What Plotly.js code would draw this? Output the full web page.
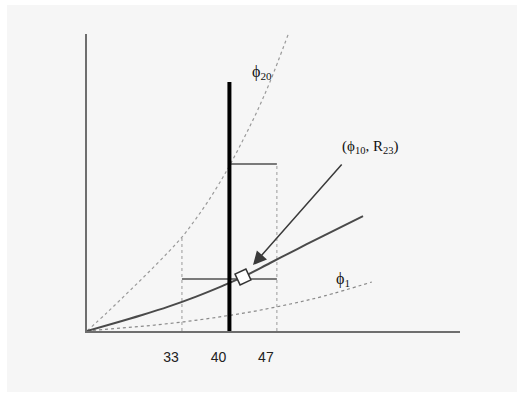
<!DOCTYPE html>
<html>
<head>
<meta charset="utf-8">
<script src="https://cdn.plot.ly/plotly-3.0.1.min.js"></script>
<style>html,body{margin:0;padding:0;background:#fff;}#chart{width:522px;height:394px;}</style>
</head>
<body>
<div id="chart"></div>
<script>
// R axis ticks
const tickValues = [33, 40, 47];
const tickLabels = ["33", "40", "47"];

// phi20 curve (dotted, steep)
const phi20R = [19, 22, 25, 28, 31, 33, 35, 37, 39, 40, 42, 44, 46, 48.64];
const phi20H = [0, 6.3, 12.9, 19.6, 26.6, 31.6, 37.6, 44.2, 51.6, 55.6, 64.3, 73.6, 84.0, 99.7];

// phi10 curve (solid, middle)
const phi10R = [19, 23, 27, 31, 35, 39, 42, 46, 50, 54, 59.7];
const phi10H = [0, 2.6, 5.3, 8.2, 11.5, 15.2, 18.2, 22.9, 27.6, 32.2, 38.7];

// phi1 curve (dotted, shallow)
const phi1R = [19, 24, 29, 34, 39, 44, 49, 54, 61];
const phi1H = [0, 1.0, 2.0, 3.3, 4.9, 6.8, 9.1, 11.8, 16.5];

// marked point (phi10, R23)
const pointR = [42.0];
const pointH = [18.2];

// thick vertical at R=40
const thickR = [40, 40];
const thickH = [0, 83.8];

// upper bracket (phi20 at R=40, out to 47)
const upperR = [40, 47];
const upperH = [56.2, 56.2];
// lower bracket (33 to 47)
const lowerR = [33, 47];
const lowerH = [17.5, 17.5];
// dotted verticals
const dot33R = [33, 33];
const dot33H = [0, 31.6];
const dot47R = [47, 47];
const dot47H = [0, 56.2];

// arrow from label to point
const arrowTail = [56.75, 56.6];
const arrowHead = [43.48, 22.2];

const serif = "Liberation Serif, Times New Roman, serif";

const traces = [
  {x: phi20R, y: phi20H, mode: "lines", line: {color: "#9a9a9a", width: 1.2, dash: "dot", shape: "spline"}, cliponaxis: false},
  {x: phi1R, y: phi1H, mode: "lines", line: {color: "#8a8a8a", width: 1.2, dash: "dot", shape: "spline"}, cliponaxis: false},
  {x: dot33R, y: dot33H, mode: "lines", line: {color: "#9a9a9a", width: 1, dash: "dot"}},
  {x: dot47R, y: dot47H, mode: "lines", line: {color: "#9a9a9a", width: 1, dash: "dot"}},
  {x: upperR, y: upperH, mode: "lines", line: {color: "#7a7a7a", width: 2}},
  {x: lowerR, y: lowerH, mode: "lines", line: {color: "#7a7a7a", width: 2}},
  {x: phi10R, y: phi10H, mode: "lines", line: {color: "#4a4a4a", width: 2, shape: "spline"}},
  {x: thickR, y: thickH, mode: "lines", line: {color: "#000000", width: 4}},
  {x: pointR, y: pointH, mode: "markers", marker: {symbol: "square", size: 12, angle: -25, color: "#ffffff", line: {color: "#333333", width: 1.5}}}
];

const layout = {
  width: 522, height: 394,
  margin: {l: 87, r: 62, t: 34, b: 63},
  paper_bgcolor: "#ffffff",
  plot_bgcolor: "rgba(0,0,0,0)",
  showlegend: false,
  xaxis: {
    range: [19, 74], showgrid: false, zeroline: false,
    showline: true, linecolor: "#6e6e6e", linewidth: 2,
    tickvals: tickValues, ticktext: tickLabels, ticks: "",
    ticklabelshift: -11, ticklabelstandoff: 12,
    tickfont: {family: "Liberation Sans, Arial, sans-serif", size: 14, color: "#222"},
    fixedrange: true
  },
  yaxis: {
    range: [0, 100], showgrid: false, zeroline: false,
    showline: true, linecolor: "#6e6e6e", linewidth: 2,
    showticklabels: false, ticks: "", fixedrange: true
  },
  shapes: [
    {type: "rect", xref: "paper", yref: "paper", x0: -0.2145, x1: 1.153, y0: -0.205, y1: 1.098,
     fillcolor: "#f6f6f6", line: {width: 0}, layer: "below"}
  ],
  annotations: [
    {x: 13.1, y: 72.1, text: "H", showarrow: false, font: {family: serif, size: 15, color: "#111"}},
    {x: 76.8, y: 0, text: "R", showarrow: false, font: {family: serif, size: 15, color: "#111"}},
    {x: 44.8, y: 87.2, text: "ϕ<sub>20</sub>", showarrow: false, font: {family: serif, size: 16, color: "#111"}},
    {x: 60.7, y: 61.8, text: "(ϕ<sub>10</sub>, R<sub>23</sub>)", showarrow: false, font: {family: serif, size: 15, color: "#111"}},
    {x: 56.8, y: 17.4, text: "ϕ<sub>1</sub>", showarrow: false, font: {family: serif, size: 16, color: "#111"}},
    {x: arrowHead[0], y: arrowHead[1], ax: arrowTail[0], ay: arrowTail[1], axref: "x", ayref: "y",
     xref: "x", yref: "y", text: "", showarrow: true, arrowhead: 2, arrowsize: 1.8, arrowwidth: 1.5, arrowcolor: "#3a3a3a"}
  ]
};

Plotly.newPlot("chart", traces, layout, {staticPlot: true, displayModeBar: false});
</script>
</body>
</html>
